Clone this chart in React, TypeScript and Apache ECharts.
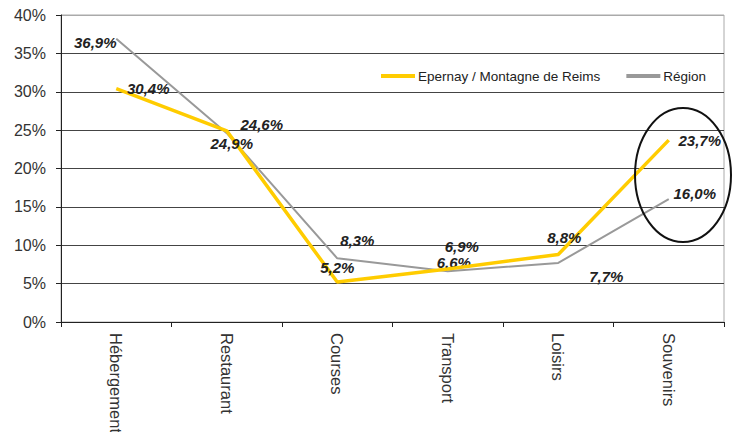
import React, { useEffect, useRef } from "react";
import * as echarts from "echarts";

const categories = ["Hébergement", "Restaurant", "Courses", "Transport", "Loisirs", "Souvenirs"];
const epernayValues = [30.4, 24.9, 5.2, 6.9, 8.8, 23.7];
const regionValues = [36.9, 24.6, 8.3, 6.6, 7.7, 16.0];
const seriesNames = ["Epernay / Montagne de Reims", "Région"];

// label offsets (styling only), relative to each point
const epernayLabelOffsets = [[32, 0], [5, 13], [0, -15], [14, -23], [6, -17], [31, 0]];
const regionLabelOffsets = [[-21, 4], [35, -9], [20, -18], [6, -9], [48, 14], [26, -6]];

const FONT = "'Liberation Sans', Arial, sans-serif";

const fmt = (v: number) => v.toFixed(1).replace(".", ",") + "%";

export default function App() {
  const ref = useRef<HTMLDivElement>(null);
  useEffect(() => {
    if (!ref.current) return;
    const chart = echarts.init(ref.current, undefined, { renderer: "svg" });
    const mkData = (vals: number[], offs: number[][]) =>
      vals.map((v, i) => ({
        value: v,
        label: { offset: offs[i] },
      }));
    const labelStyle = {
      show: true,
      position: "inside" as const,
      formatter: (p: any) => fmt(p.value),
      fontFamily: FONT,
      fontSize: 15,
      fontWeight: "bold" as const,
      fontStyle: "italic" as const,
      color: "#222",
    };
    chart.setOption({
      animation: false,
      backgroundColor: "#fff",
      grid: {
        left: 61,
        right: 10,
        top: 15,
        bottom: 110,
        show: true,
        borderColor: "#aaa",
        borderWidth: 1,
        containLabel: false,
        outerBoundsMode: "none",
      },
      legend: {
        left: 376,
        top: 64,
        itemWidth: 34,
        itemHeight: 4,
        itemGap: 26,
        icon: "rect",
        textStyle: { fontFamily: FONT, fontSize: 13.5, color: "#222", padding: [0, 0, 0, -2] },
        data: [
          { name: seriesNames[0], itemStyle: { color: "#FFCC00", opacity: 1 } },
          { name: seriesNames[1], itemStyle: { color: "#999999", opacity: 1 } },
        ],
      },
      xAxis: {
        type: "category",
        data: categories,
        boundaryGap: true,
        axisLine: { show: true, lineStyle: { color: "#222", width: 1 } },
        axisTick: { show: true, length: 5, lineStyle: { color: "#222" } },
        axisLabel: { rotate: -90, fontFamily: FONT, fontSize: 16.5, color: "#333", margin: 11, interval: 0 },
        splitLine: { show: false },
      },
      yAxis: {
        type: "value",
        min: 0,
        max: 40,
        interval: 5,
        axisLine: { show: true, lineStyle: { color: "#222", width: 1 } },
        axisTick: { show: true, length: 5, lineStyle: { color: "#222" } },
        axisLabel: { formatter: "{value}%", fontFamily: FONT, fontSize: 16, color: "#333", margin: 15 },
        splitLine: {
          show: true,
          lineStyle: { color: ["#444", "#444", "#444", "#444", "#444", "#444", "#444", "#444", "#aaa"], width: 1 },
        },
      },
      series: [
        {
          name: seriesNames[1],
          type: "line",
          data: mkData(regionValues, regionLabelOffsets),
          symbol: "circle",
          symbolSize: 1,
          itemStyle: { color: "rgba(0,0,0,0)" },
          lineStyle: { color: "#999999", width: 2 },
          label: labelStyle,
          z: 2,
        },
        {
          name: seriesNames[0],
          type: "line",
          data: mkData(epernayValues, epernayLabelOffsets),
          symbol: "circle",
          symbolSize: 1,
          itemStyle: { color: "rgba(0,0,0,0)" },
          lineStyle: { color: "#FFCC00", width: 3.5 },
          label: labelStyle,
          z: 3,
        },
      ],
      graphic: [
        {
          type: "ellipse",
          shape: { cx: 683, cy: 175, rx: 48, ry: 67 },
          style: { fill: "none", stroke: "#111", lineWidth: 2 },
          z: 10,
        },
      ],
    });
    return () => chart.dispose();
  }, []);
  return <div ref={ref} style={{ position: "fixed", left: 0, top: 0, width: 734, height: 432 }} />;
}
